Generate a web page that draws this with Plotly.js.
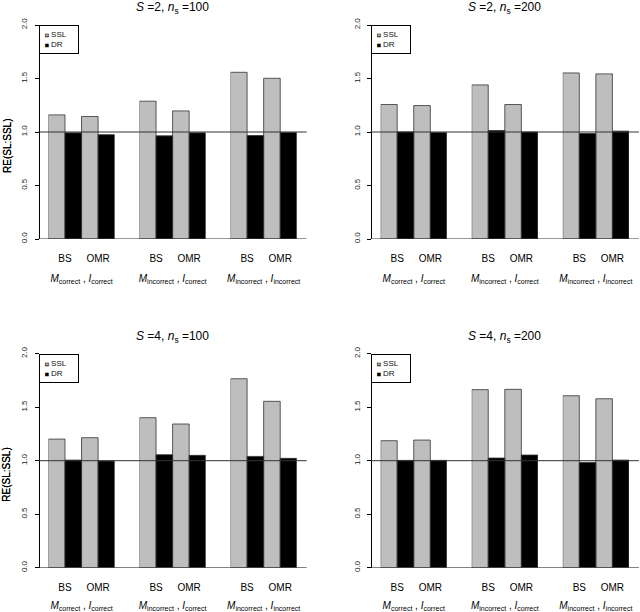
<!DOCTYPE html>
<html>
<head>
<meta charset="utf-8">
<script src="https://cdn.plot.ly/plotly-3.0.1.min.js"></script>
<style>
  html, body { margin: 0; padding: 0; background: #fff; }
  #chart { width: 640px; height: 612px; }
</style>
</head>
<body>
<div id="chart"></div>
<script>
    // panel headings, model settings (one x axis each) and the two methods inside a setting
    var panelTitles = [
        '<i>S</i> =2, <i>n</i><sub>s</sub> =100',
        '<i>S</i> =2, <i>n</i><sub>s</sub> =200',
        '<i>S</i> =4, <i>n</i><sub>s</sub> =100',
        '<i>S</i> =4, <i>n</i><sub>s</sub> =200'
    ];
    var settings = [
        '<i>M</i><sub>correct</sub> , <i>I</i><sub>correct</sub>',
        '<i>M</i><sub>incorrect</sub> , <i>I</i><sub>correct</sub>',
        '<i>M</i><sub>incorrect</sub> , <i>I</i><sub>incorrect</sub>'
    ];
    var methods = ['BS', 'OMR'];
    var seriesNames = ['SSL', 'DR'];

    // RE(SL:SSL), order: (setting 1: BS, OMR), (setting 2: BS, OMR), (setting 3: BS, OMR)
    var sslS2n100 = [1.160, 1.145, 1.288, 1.197, 1.558, 1.502];
    var drS2n100  = [0.992, 0.975, 0.964, 0.992, 0.967, 0.995];
    var sslS2n200 = [1.257, 1.247, 1.440, 1.257, 1.552, 1.543];
    var drS2n200  = [1.001, 0.995, 1.014, 1.000, 0.986, 1.008];
    var sslS4n100 = [1.202, 1.215, 1.402, 1.343, 1.766, 1.555];
    var drS4n100  = [1.006, 0.997, 1.056, 1.050, 1.040, 1.022];
    var sslS4n200 = [1.187, 1.193, 1.664, 1.667, 1.607, 1.579];
    var drS4n200  = [1.003, 1.003, 1.025, 1.053, 0.984, 1.006];

    var panelData = [
        [sslS2n100, drS2n100],
        [sslS2n200, drS2n200],
        [sslS4n100, drS4n100],
        [sslS4n200, drS4n200]
    ];

    var W = 640, H = 612;
    var fx = function(px) { return px / W; };
    var fy = function(px) { return 1 - px / H; };

    // plot regions in pixels (left edge = y axis, top = 2.0)
    var panels = [
        {left: 38.5, top: 25},
        {left: 370.7, top: 25},
        {left: 38.5, top: 353.7},
        {left: 370.7, top: 353.7}
    ];
    var plotW = 268.2, plotH = 214;
    var unit = plotW / 16.2;   // one bar width

    var barColors = ['#bebebe', '#000000'];
    var font = 'Liberation Sans, Arial, Helvetica, sans-serif';

    // legend box text: small filled squares in the bar colours
    var legendText = seriesNames.map(function(name, s) {
        return '&nbsp;<span style="font-size:6px;color:' + barColors[s] +
            ';stroke:#000;stroke-width:0.6px">\u25A0</span>&nbsp;' + name;
    }).join('<br>');

    var data = [];
    var layout = {
        width: W,
        height: H,
        margin: {l: 0, r: 0, t: 0, b: 0},
        paper_bgcolor: '#fff',
        plot_bgcolor: 'rgba(0,0,0,0)',
        showlegend: false,
        barmode: 'group',
        bargap: 0,
        bargroupgap: 0,
        font: {family: font, color: '#000', size: 10},
        annotations: [],
        shapes: []
    };

    panels.forEach(function(p, k) {
        var yName = k === 0 ? 'yaxis' : 'yaxis' + (k + 1);
        var yId = k === 0 ? 'y' : 'y' + (k + 1);

        layout[yName] = {
            domain: [fy(p.top + plotH), fy(p.top)],
            anchor: 'free',
            position: fx(p.left),
            range: [0, 2],
            dtick: 0.5,
            tick0: 0,
            tickformat: '.1f',
            tickangle: -90,
            ticks: 'outside',
            ticklen: 4,
            tickcolor: '#000',
            tickwidth: 1,
            ticklabelstandoff: 4,
            tickfont: {size: 8, color: '#222'},
            showline: true,
            linecolor: '#000',
            linewidth: 1,
            showgrid: false,
            zeroline: false,
            fixedrange: true
        };

        settings.forEach(function(setting, g) {
            var idx = k * 3 + g + 1;
            var xName = idx === 1 ? 'xaxis' : 'xaxis' + idx;
            var xId = idx === 1 ? 'x' : 'x' + idx;
            var start = p.left + unit * (0.6 + g * 5.5);

            layout[xName] = {
                domain: [fx(start), fx(start + 4 * unit)],
                anchor: yId,
                type: 'category',
                categoryorder: 'array',
                categoryarray: methods,
                showline: false,
                showgrid: false,
                zeroline: false,
                ticks: '',
                ticklabelstandoff: 12,
                tickfont: {size: 10},
                title: {text: setting, font: {size: 10}, standoff: 11},
                fixedrange: true
            };

            seriesNames.forEach(function(name, s) {
                data.push({
                    type: 'bar',
                    name: name,
                    x: methods,
                    y: panelData[k][s].slice(g * 2, g * 2 + 2),
                    xaxis: xId,
                    yaxis: yId,
                    marker: {color: barColors[s], line: {color: '#333', width: 0.8}},
                    hoverinfo: 'x+y+name'
                });
            });
        });

        // reference lines at 0 and 1 across the whole plot region
        [0, 1].forEach(function(v) {
            layout.shapes.push({
                type: 'line', xref: 'paper', yref: yId,
                x0: fx(p.left), x1: fx(p.left + plotW), y0: v, y1: v,
                line: {color: '#333', width: 1}
            });
        });

        layout.annotations.push({
            text: panelTitles[k],
            xref: 'paper', yref: 'paper',
            x: fx(p.left + plotW / 2), y: fy(p.top - 17),
            xanchor: 'center', yanchor: 'middle',
            showarrow: false,
            font: {size: 12}
        });
        layout.annotations.push({
            text: 'RE(SL:SSL)',
            xref: 'paper', yref: 'paper',
            x: fx(7), y: fy(p.top + 121),
            xanchor: 'center', yanchor: 'middle',
            textangle: -90,
            showarrow: false,
            font: {size: 10}
        });
        // legend box in the top-left corner of the plot region
        layout.annotations.push({
            text: legendText,
            xref: 'paper', yref: 'paper',
            x: fx(p.left), y: fy(p.top),
            xanchor: 'left', yanchor: 'top',
            align: 'left',
            width: 32,
            height: 21,
            borderpad: 3,
            bordercolor: '#000',
            borderwidth: 1,
            bgcolor: '#fff',
            showarrow: false,
            font: {size: 8, color: '#111'}
        });
    });

    Plotly.newPlot('chart', data, layout, {displayModeBar: false, staticPlot: true});
</script>
</body>
</html>
